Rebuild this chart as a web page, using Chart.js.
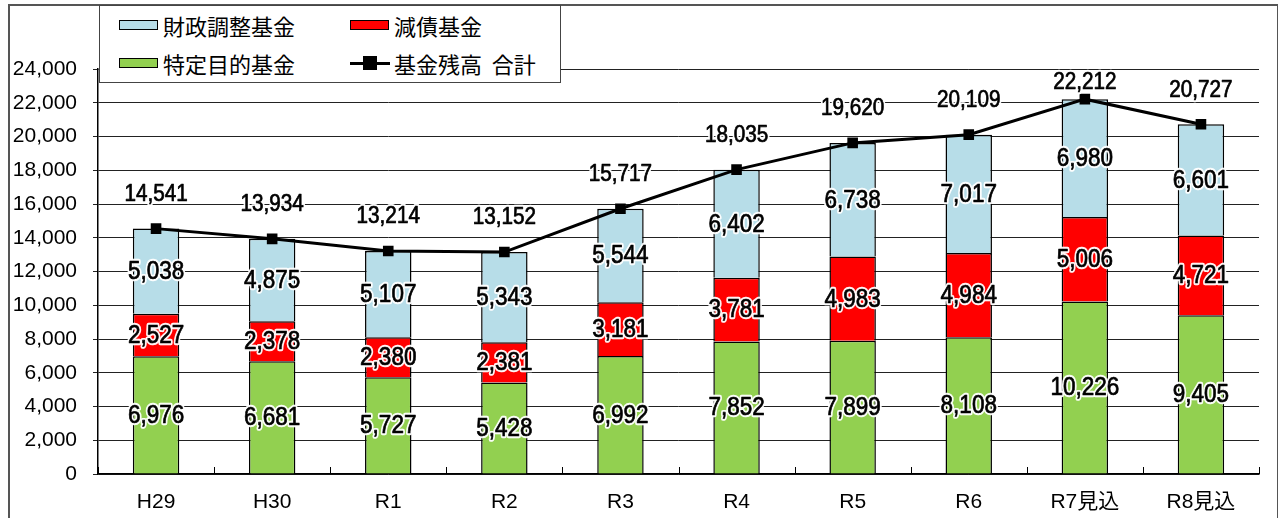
<!DOCTYPE html>
<html>
<head>
<meta charset="utf-8">
<script src="https://cdn.jsdelivr.net/npm/chart.js@4/dist/chart.umd.min.js"></script>
<style>
  body { margin: 0; background: #fff; }
  #wrap { position: relative; width: 1278px; height: 518px; overflow: hidden; }
  #frame { position: absolute; left: 8px; top: 4px; width: 1267px; height: 530px;
           border: 2px solid #555; }
  #legend { position: absolute; left: 99px; top: 5px; width: 460px; height: 76px;
            border: 1px solid #444; background: #fff; z-index: 2;
            font-family: "Noto Sans CJK JP", sans-serif; font-size: 22px; color: #000; }
  .item { position: absolute; display: flex; align-items: center; height: 30px; }
  .sw { display: inline-block; width: 37px; height: 8px; border: 1.5px solid #000; margin-right: 5px; }
  .ln { display: inline-block; position: relative; width: 40px; height: 14px; margin-right: 4px; }
  .ln::before { content: ""; position: absolute; left: 0; right: 0; top: 5.5px; height: 3px; background: #000; }
  .ln::after { content: ""; position: absolute; left: 13px; top: 0; width: 14px; height: 14px; background: #000; }
  canvas { position: absolute; left: 0; top: 0; }
</style>
</head>
<body>
<div id="wrap">
  <div id="frame"></div>
  <canvas id="chart" width="1278" height="518"></canvas>
  <div id="legend">
    <div class="item" style="left:19px;top:4px"><span class="sw" style="background:#b7dde8"></span>財政調整基金</div>
    <div class="item" style="left:250px;top:4px"><span class="sw" style="background:#ff0000"></span>減債基金</div>
    <div class="item" style="left:19px;top:42px"><span class="sw" style="background:#92d050"></span>特定目的基金</div>
    <div class="item" style="left:250px;top:42px"><span class="ln"></span>基金残高&nbsp;&nbsp;合計</div>
  </div>
</div>
<script>
// data (単位: 百万円)
const years = ['H29', 'H30', 'R1', 'R2', 'R3', 'R4', 'R5', 'R6', 'R7見込', 'R8見込'];
const tokuteiMokuteki = [6976, 6681, 5727, 5428, 6992, 7852, 7899, 8108, 10226, 9405];
const gensai = [2527, 2378, 2380, 2381, 3181, 3781, 4983, 4984, 5006, 4721];
const zaiseiChosei = [5038, 4875, 5107, 5343, 5544, 6402, 6738, 7017, 6980, 6601];
const goukei = [14541, 13934, 13214, 13152, 15717, 18035, 19620, 20109, 22212, 20727];

const fmt = (v) => v.toLocaleString('en-US');
const tickFont = '"Liberation Sans", "Noto Sans CJK JP", Arial, sans-serif';

function haloText(ctx, text, x, y, size) {
  ctx.save();
  ctx.translate(x, y);
  ctx.scale(0.9, 1);
  ctx.font = size + 'px "Liberation Sans", Arial, sans-serif';
  ctx.textAlign = 'center';
  ctx.textBaseline = 'middle';
  ctx.lineJoin = 'round';
  ctx.strokeStyle = 'rgba(255,255,255,0.95)';
  ctx.lineWidth = 4.5;
  ctx.strokeText(text, 0, 0);
  ctx.fillStyle = '#000';
  ctx.fillText(text, 0, 0);
  ctx.strokeStyle = '#000';
  ctx.lineWidth = 0.7;
  ctx.strokeText(text, 0, 0);
  ctx.restore();
}

// labels inside the bars and above the total line
const labelPlugin = {
  id: 'labels',
  afterDatasetsDraw(chart) {
    const ctx = chart.ctx;
    chart.data.datasets.forEach((ds, i) => {
      const meta = chart.getDatasetMeta(i);
      if (ds.type === 'line') {
        meta.data.forEach((pt, j) => {
          const y = Math.max(pt.y - 34, chart.chartArea.top + 14);
          haloText(ctx, fmt(ds.data[j]), pt.x, y, 23);
        });
      } else {
        meta.data.forEach((bar, j) => {
          haloText(ctx, fmt(ds.data[j]), bar.x, (bar.y + bar.base) / 2 + 1, 25);
        });
      }
    });
  },
  afterDraw(chart) {
    // small inside tick marks between categories
    const x = chart.scales.x;
    const ctx = chart.ctx;
    const step = x.width / years.length;
    ctx.save();
    ctx.strokeStyle = '#000';
    ctx.lineWidth = 1;
    for (let i = 0; i <= years.length; i++) {
      const px = Math.round(x.left + step * i) + 0.5;
      ctx.beginPath();
      ctx.moveTo(px, x.top);
      ctx.lineTo(px, x.top - 7);
      ctx.stroke();
    }
    ctx.restore();
  }
};

new Chart(document.getElementById('chart'), {
  data: {
    labels: years,
    datasets: [
      {
        type: 'line',
        label: '基金残高　合計',
        data: goukei,
        borderColor: '#000',
        backgroundColor: '#000',
        borderWidth: 3,
        pointStyle: 'rect',
        pointRadius: 7.5,
        pointBorderWidth: 0,
        stack: 'total',
        order: 0
      },
      {
        type: 'bar',
        label: '特定目的基金',
        data: tokuteiMokuteki,
        backgroundColor: '#92d050',
        borderColor: '#000',
        borderWidth: 1.5,
        stack: 'fund',
        order: 1
      },
      {
        type: 'bar',
        label: '減債基金',
        data: gensai,
        backgroundColor: '#ff0000',
        borderColor: '#000',
        borderWidth: 1.5,
        stack: 'fund',
        order: 1
      },
      {
        type: 'bar',
        label: '財政調整基金',
        data: zaiseiChosei,
        backgroundColor: '#b7dde8',
        borderColor: '#000',
        borderWidth: 1.5,
        stack: 'fund',
        order: 1
      }
    ]
  },
  options: {
    responsive: false,
    animation: false,
    layout: { padding: { left: 0, right: 19, top: 69, bottom: 0 } },
    datasets: { bar: { categoryPercentage: 1, barPercentage: 0.4 } },
    plugins: { legend: { display: false }, tooltip: { enabled: false } },
    scales: {
      x: {
        stacked: true,
        grid: { display: false },
        border: { color: '#000', width: 1.5 },
        ticks: { color: '#000', padding: 8, font: { family: tickFont, size: 21 } },
        afterFit(scale) { scale.height = 44; }
      },
      y: {
        stacked: true,
        min: 0,
        max: 24000,
        border: { color: '#000', width: 1.5 },
        grid: { color: '#222', lineWidth: 1, tickLength: 5 },
        ticks: {
          stepSize: 2000,
          color: '#000',
          padding: 16,
          font: { family: tickFont, size: 21 },
          callback: (v) => fmt(v)
        },
        afterFit(scale) { scale.width = 98; }
      }
    }
  },
  plugins: [labelPlugin]
});
</script>
</body>
</html>
